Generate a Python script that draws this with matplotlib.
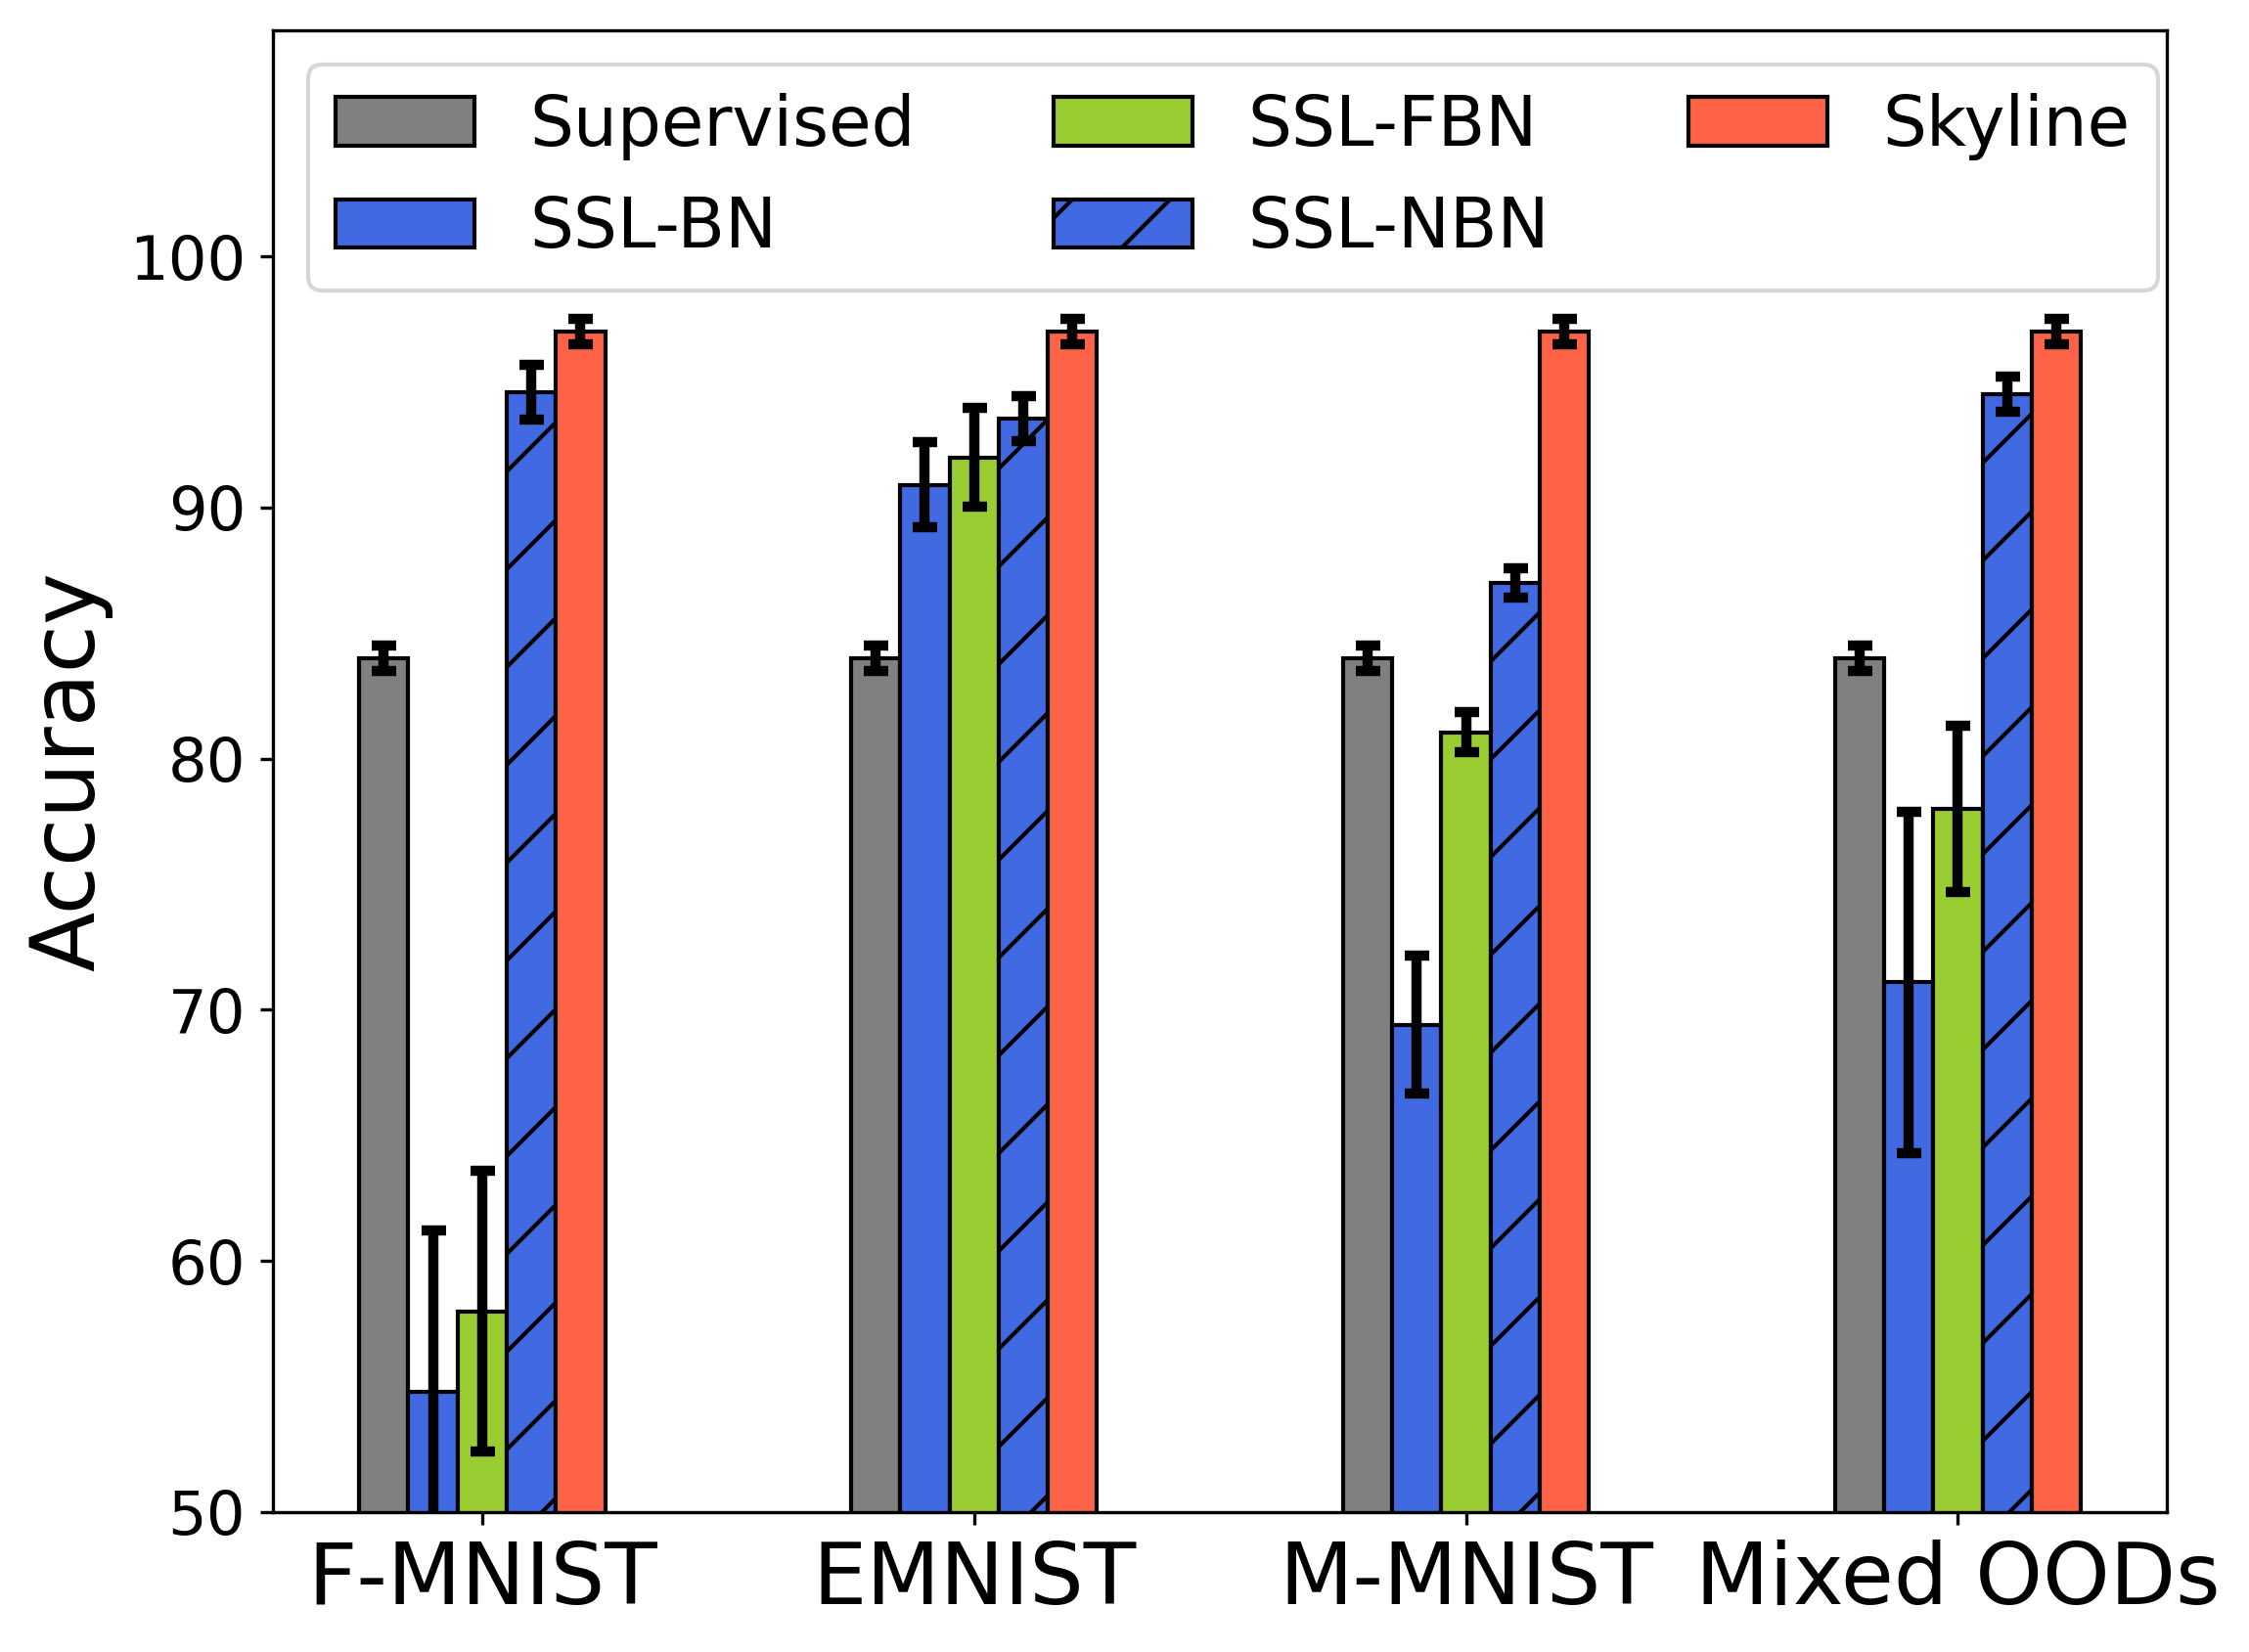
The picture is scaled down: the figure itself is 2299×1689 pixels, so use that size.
import matplotlib
matplotlib.use('Agg')
import matplotlib.pyplot as plt
import numpy as np

datasets = ['F-MNIST', 'EMNIST', 'M-MNIST', 'Mixed OODs']
methods = ['Supervised', 'SSL-BN', 'SSL-FBN', 'SSL-NBN', 'Skyline']

supervised = [84.0, 84.0, 84.0, 84.0]
supervised_err = [0.5, 0.5, 0.5, 0.5]
ssl_bn = [54.8, 90.9, 69.4, 71.1]
ssl_bn_err = [6.4, 1.7, 2.75, 6.8]
ssl_fbn = [58.0, 92.0, 81.05, 78.0]
ssl_fbn_err = [5.6, 1.95, 0.8, 3.3]
ssl_nbn = [94.6, 93.55, 87.0, 94.5]
ssl_nbn_err = [1.1, 0.9, 0.6, 0.7]
skyline = [97.0, 97.0, 97.0, 97.0]
skyline_err = [0.5, 0.5, 0.5, 0.5]

colors = ['grey', 'royalblue', 'yellowgreen', 'royalblue', 'tomato']
hatches = [None, None, None, '/', None]


def main():
    plt.rcParams['xtick.major.size'] = 3.2
    plt.rcParams['ytick.major.size'] = 3.2

    fig = plt.figure(figsize=(2299 / 300, 1689 / 300), dpi=300)
    ax = fig.add_axes([0.1214, 0.0847, 0.9635 - 0.1214, 0.9816 - 0.0847])

    values = [supervised, ssl_bn, ssl_fbn, ssl_nbn, skyline]
    errors = [supervised_err, ssl_bn_err, ssl_fbn_err, ssl_nbn_err, skyline_err]
    x = np.arange(len(datasets))
    width = 0.1
    for i in range(len(methods)):
        ax.bar(x + (i - 2) * width, values[i], width, yerr=errors[i],
               color=colors[i], hatch=hatches[i], edgecolor='black',
               linewidth=1.0, label=methods[i], capsize=3,
               error_kw=dict(elinewidth=2.5, capthick=2.5, ecolor='black'))

    ax.set_ylim(50, 109)
    ax.set_yticks([50, 60, 70, 80, 90, 100])
    ax.set_xticks(x)
    ax.set_xticklabels(datasets, fontsize=21)
    ax.tick_params(axis='y', labelsize=15)
    ax.set_ylabel('Accuracy', fontsize=21.5, labelpad=4)

    ax.legend(ncol=3, loc='upper left', fontsize=17)

    fig.savefig('out.png', dpi=300)


if __name__ == "__main__":
    main()
